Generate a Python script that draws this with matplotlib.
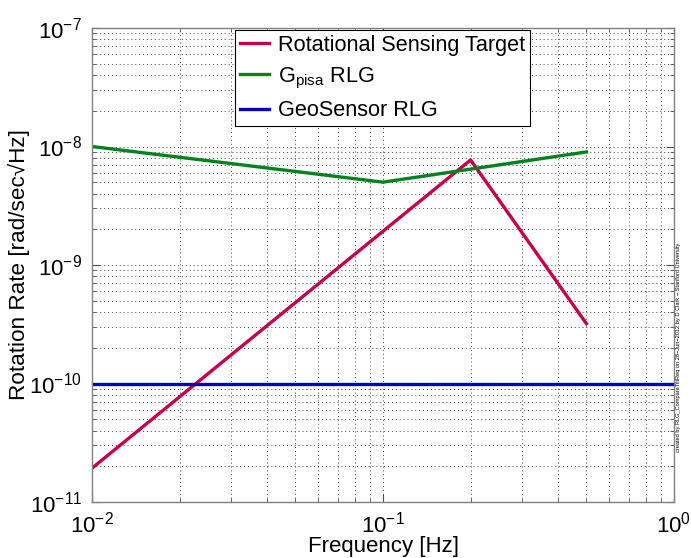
import matplotlib
matplotlib.use("Agg")
import matplotlib.pyplot as plt
from matplotlib.ticker import LogLocator, NullFormatter

plt.rcParams['font.family'] = ['Liberation Sans', 'DejaVu Sans']
plt.rcParams['mathtext.fontset'] = 'custom'
plt.rcParams['mathtext.rm'] = 'Liberation Sans'
plt.rcParams['mathtext.it'] = 'Liberation Sans:italic'
plt.rcParams['mathtext.bf'] = 'Liberation Sans:bold'

# Rotation-rate requirement and sensor noise levels
target_freq = [0.01, 0.2, 0.5]
target_rate = [1.93e-11, 7.7e-9, 3.2e-10]

gpisa_freq = [0.01, 0.1, 0.5]
gpisa_rate = [1.0e-8, 5.0e-9, 9.0e-9]

geo_freq = [0.01, 1.0]
geo_rate = [1.0e-10, 1.0e-10]

labels = ['Rotational Sensing Target', r'G$_{\mathrm{pisa}}$ RLG', 'GeoSensor RLG']
colors = ['#C2004E', '#00821E', '#0000C0']

fig = plt.figure(figsize=(6.91, 5.58), dpi=100)
ax = fig.add_axes([92 / 691, 56 / 558, 582 / 691, 474 / 558])

ax.loglog(target_freq, target_rate, color=colors[0], lw=2.4, label=labels[0])
ax.loglog(gpisa_freq, gpisa_rate, color=colors[1], lw=2.4, label=labels[1])
ax.loglog(geo_freq, geo_rate, color=colors[2], lw=2.4, label=labels[2])

ax.set_xlim(1e-2, 1)
ax.set_ylim(1e-11, 1e-7)

ax.xaxis.set_major_locator(LogLocator(base=10, numticks=10))
ax.yaxis.set_major_locator(LogLocator(base=10, numticks=10))
ax.xaxis.set_minor_locator(LogLocator(base=10, subs=range(2, 10), numticks=20))
ax.yaxis.set_minor_locator(LogLocator(base=10, subs=range(2, 10), numticks=20))
ax.xaxis.set_minor_formatter(NullFormatter())
ax.yaxis.set_minor_formatter(NullFormatter())

ax.grid(True, which='both', linestyle=(0, (1, 3)), linewidth=0.7, color='0.25')
ax.set_axisbelow(True)

for s in ax.spines.values():
    s.set_color('0.5')
    s.set_linewidth(1.0)
ax.tick_params(which='both', direction='in', top=True, right=True,
               color='0.3', labelsize=16)
ax.tick_params(which='major', length=6, width=0.8, pad=7)
ax.tick_params(which='minor', length=3, width=0.6)

ax.set_xlabel('Frequency [Hz]', fontsize=16)
ax.xaxis.set_label_coords(0.5, -0.071)
ax.set_ylabel('Rotation Rate [rad/sec\u221aHz]', fontsize=16.2)
ax.yaxis.set_label_coords(-0.106, 0.5)

leg = ax.legend(loc='upper left', bbox_to_anchor=((235 - 92) / 582, (502 - 30) / 474),
                borderaxespad=0, fontsize=15.6, frameon=True, fancybox=False,
                edgecolor='black', framealpha=1, handlelength=1.35,
                handletextpad=0.4, borderpad=0.22, labelspacing=0.45)
leg.get_frame().set_linewidth(0.8)

fig.text(676 / 691, (558 - 452) / 558,
         'created by RLG_CompareTiltReq on 28\u2212Jun\u22122012 by D Clark \u2212 Stanford University',
         rotation=90, fontsize=4.1, ha='left', va='bottom')

fig.savefig('out.png', dpi=100)
